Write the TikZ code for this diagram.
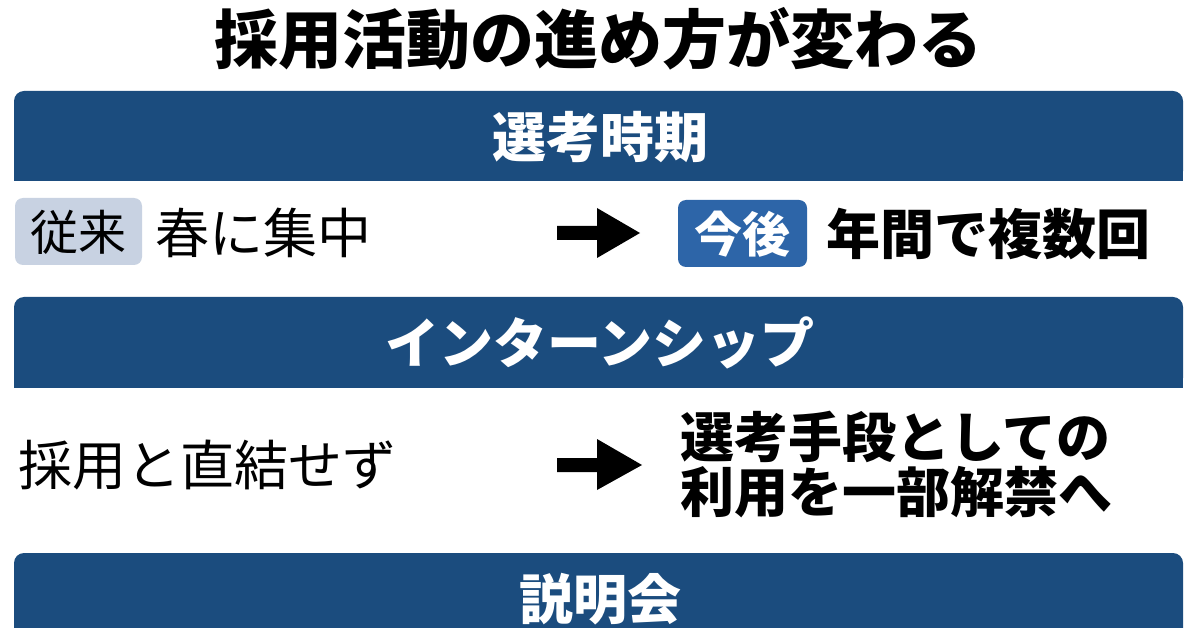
\documentclass[tikz,border=0pt]{standalone}
\usepackage{fontspec}
\newfontfamily\jp{Noto Sans CJK JP}
\usetikzlibrary{positioning}
\definecolor{bannerblue}{HTML}{1B4C7E}
\definecolor{tagblue}{HTML}{2D65A8}
\definecolor{taggray}{HTML}{C8D2E2}
\tikzset{
  bannerbg/.style={fill=bannerblue},
  bannertext/.style={text=white, inner sep=0pt, font=\jp\bfseries\fontsize{54}{60}\selectfont},
  normaltext/.style={text=black, inner sep=0pt, anchor=west, font=\jp\fontsize{54}{60}\selectfont},
  boldtext/.style={text=black, inner sep=0pt, anchor=west, font=\jp\bfseries\fontsize{54}{60}\selectfont},
  blockarrow/.style={fill=black},
}
\begin{document}
\begin{tikzpicture}[x=1pt,y=-1pt]
\useasboundingbox (0,0) rectangle (1200,628);
\clip (0,0) rectangle (1200,628);
\fill[white] (0,0) rectangle (1200,628);
% title
\node[inner sep=0pt, font=\jp\bfseries\fontsize{64}{70}\selectfont] (title) at (598,39) {採用活動の進め方が変わる};
% banner 1
\fill[bannerbg, rounded corners=10pt] (14,91) rectangle (1183,181);
\fill[bannerbg] (14,130) rectangle (1183,181);
\node[bannertext] (b1) at (600,137) {選考時期};
% row 1
\fill[taggray, rounded corners=8pt] (15,198) rectangle (142,265);
\node[text=black, inner sep=0pt, font=\jp\fontsize{48}{54}\selectfont] (tag1) at (78.5,232) {従来};
\node[normaltext] (r1l) at (155,233) {春に集中};
\fill[blockarrow] (557,226) -- (597,226) -- (597,208) -- (640,233) -- (597,258) -- (597,240) -- (557,240) -- cycle;
\fill[tagblue, rounded corners=8pt] (678,200) rectangle (807,267);
\node[text=white, inner sep=0pt, font=\jp\bfseries\fontsize{48}{54}\selectfont] (tag2) at (742.5,234) {今後};
\node[boldtext] (r1r) at (826,234) {年間で複数回};
% banner 2
\fill[bannerbg, rounded corners=10pt] (14,297) rectangle (1183,388);
\fill[bannerbg] (14,340) rectangle (1183,388);
\node[bannertext] (b2) at (600,343) {インターンシップ};
% row 2
\node[normaltext] (r2l) at (18,465) {採用と直結せず};
\fill[blockarrow] (557,458) -- (597,458) -- (597,439) -- (642,465) -- (597,490) -- (597,472) -- (557,472) -- cycle;
\node[boldtext] (r2r1) at (680,437) {選考手段としての};
\node[boldtext] (r2r2) at (680,492) {利用を一部解禁へ};
% banner 3
\fill[bannerbg, rounded corners=10pt] (14,553) rectangle (1183,660);
\fill[bannerbg] (14,600) rectangle (1183,660);
\node[bannertext] (b3) at (600,599) {説明会};
\end{tikzpicture}
\end{document}
